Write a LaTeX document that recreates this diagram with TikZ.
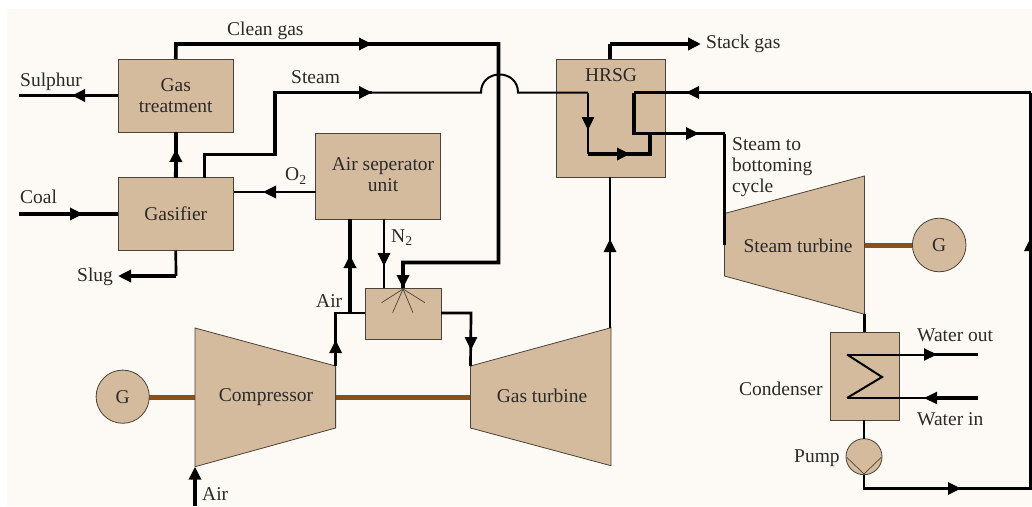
\documentclass[tikz,border=0pt]{standalone}
\usepackage{fontspec}
\setmainfont{Liberation Serif}
\usetikzlibrary{arrows.meta}
\definecolor{paper}{HTML}{FDFAF5}
\definecolor{tan}{HTML}{D5BB9D}
\definecolor{edge}{HTML}{4A4338}
\definecolor{shaft}{HTML}{8A5019}
\definecolor{ink}{HTML}{2A2A2A}
\tikzset{
  x=1pt,y=-1pt,
  unit/.style={draw=edge,fill=tan,line width=0.8pt,inner sep=0pt,outer sep=0pt,text=ink,font=\fontsize{19.5}{21}\selectfont,align=center},
  machine/.style={draw=edge,fill=tan,line width=0.8pt,line join=miter},
  lbl/.style={inner sep=0pt,text=ink,font=\fontsize{19.5}{21}\selectfont,align=left},
  heavy/.style={line width=3.6pt,draw=black,line join=miter},
  medium/.style={line width=2.7pt,draw=black,line join=miter},
  light/.style={line width=2pt,draw=black,line join=miter},
  flow/.style={-{Triangle[length=13pt,width=12pt]}},
  rotorshaft/.style={line width=5pt,draw=shaft},
  fine/.style={line width=0.7pt,draw=edge},
}
\begin{document}
\begin{tikzpicture}
\useasboundingbox (0,0) rectangle (1032,506);
\clip (0,0) rectangle (1032,506);
\fill[paper] (7,9) rectangle (1032,506);

% ports
\coordinate (sulEnd) at (19,95.5);
\coordinate (sulTip) at (72,95.5);
\coordinate (coalStart) at (19,214);
\coordinate (coalTip) at (83,214);
\coordinate (cgA) at (176,44);
\coordinate (cgTip) at (372,44);
\coordinate (cgB) at (498.5,44);
\coordinate (cgC) at (498.5,262.5);
\coordinate (cgD) at (403,262.5);
\coordinate (stA) at (204.5,177.5);
\coordinate (stB) at (204.5,154.5);
\coordinate (stC) at (275,154.5);
\coordinate (stD) at (275,92.5);
\coordinate (stTip) at (372,92.5);
\coordinate (archL) at (481,92.5);
\coordinate (archR) at (518,92.5);
\coordinate (archCa) at (481,68.5);
\coordinate (archCb) at (518,68.5);
\coordinate (hrA) at (588,92.5);
\coordinate (hrTipA) at (588,130);
\coordinate (hrB) at (588,154);
\coordinate (hrTipB) at (630,154);
\coordinate (hrC) at (650,154);
\coordinate (hrD) at (650,133.5);
\coordinate (hrE) at (634,133.5);
\coordinate (hrF) at (634,92.5);
\coordinate (retTip) at (686,92.5);
\coordinate (outTip) at (699,133.5);
\coordinate (outB) at (724.5,133.5);
\coordinate (stackA) at (610,44);
\coordinate (stackTip) at (701,44);
\coordinate (slugA) at (176,276);
\coordinate (slugTip) at (118,276);
\coordinate (o2Tip) at (263,192);
\coordinate (n2Tip) at (384,266);
\coordinate (airUpTip) at (350,255);
\coordinate (airJoin) at (350,313);
\coordinate (airCorner) at (335.6,313);
\coordinate (airTip) at (335.6,340);
\coordinate (mixOut) at (471,313);
\coordinate (mixTip) at (471,350);
\coordinate (airIn) at (195,506);
\coordinate (hotTip) at (610,239);
\coordinate (wOutEnd) at (977.5,354.5);
\coordinate (wOutTip) at (937,354.5);
\coordinate (wInStart) at (977.5,398);
\coordinate (wInTip) at (924,398);
\coordinate (coilA) at (847,354.5);
\coordinate (coilB) at (882,377);
\coordinate (coilC) at (847,398);
\coordinate (btmA) at (864,488.5);
\coordinate (btmTip) at (961,488.5);
\coordinate (btmB) at (1030.5,488.5);
\coordinate (rhsTip) at (1030.5,238);
\coordinate (rhsB) at (1030.5,92.5);

% machines
\coordinate (cLT) at (195,328);
\coordinate (cRT) at (335.6,366);
\coordinate (cRB) at (335.6,428);
\coordinate (cLB) at (195,466.7);
\coordinate (gLT) at (470.5,366);
\coordinate (gRT) at (611,327.7);
\coordinate (gRB) at (611,465.7);
\coordinate (gLB) at (470.5,428);
\coordinate (sLT) at (724.5,213.5);
\coordinate (sRT) at (864.5,176);
\coordinate (sRB) at (864.5,314.3);
\coordinate (sLB) at (724.5,276);
\coordinate (sEntry) at (724.5,245);

% shafts behind machines
\draw[rotorshaft] (149,397) -- (195,397);
\draw[rotorshaft] (335.6,397) -- (470.5,397);
\draw[rotorshaft] (864.5,245) -- (912,245);

\node[unit,minimum width=115.5pt,minimum height=73pt] (gt) at (175.75,95.5) {Gas\\treatment};
\node[unit,minimum width=115.5pt,minimum height=73pt] (gs) at (175.75,214) {Gasifier};
\node[unit,minimum width=125pt,minimum height=86pt] (asu) at (378,176) {};
\node[lbl,align=center] (asut) at (383,175) {Air seperator\\unit};
\node[unit,minimum width=76pt,minimum height=51pt] (mx) at (403,313.5) {};
\node[unit,minimum width=109pt,minimum height=118pt] (hrsg) at (610.5,118) {};
\node[lbl,anchor=center] (hrsgt) at (611,75) {HRSG};
\node[unit,minimum width=69.7pt,minimum height=88pt] (cd) at (864.85,376.3) {};
\node[unit,circle,minimum size=53.2pt] (gl) at (122.7,396.7) {G};
\node[unit,circle,minimum size=53.6pt] (gr) at (939.2,245) {G};
\node[unit,circle,minimum size=36pt] (pu) at (864,456.7) {};

\path[machine] (cLT) -- (cRT) -- (cRB) -- (cLB) -- cycle;
\path[machine] (gLT) -- (gRT) -- (gRB) -- (gLB) -- cycle;
\path[machine] (sLT) -- (sRT) -- (sRB) -- (sLB) -- cycle;
\node[lbl] (cmp) at (266,397) {Compressor};
\node[lbl] (gtb) at (542,396) {Gas turbine};
\node[lbl] (stb) at (798,246) {Steam turbine};

% spray, pump impeller
\draw[fine] (403,289) -- (381.6,302.7);
\draw[fine] (403,289) -- (392.6,312.7);
\draw[fine] (403,289) -- (413,312.7);
\draw[fine] (403,289) -- (425,302.7);
\draw[fine] (846.7,457.3) -- (864,474) -- (881.3,457.3);

% connectors
\draw[heavy] (gt.west |- sulEnd) -- (sulEnd);
\draw[heavy,flow] (gt.west |- sulTip) -- (sulTip);
\draw[heavy] (coalStart) -- (gs.west |- coalStart);
\draw[heavy,flow] (coalStart) -- (coalTip);
\draw[heavy] (gt.north) -- (cgA) -- (cgB) -- (cgC) -- (cgD) -- (mx.north -| cgD);
\draw[heavy,flow] (cgA) -- (cgTip);
\draw[heavy,flow] (cgD) -- (mx.north -| cgD);
\draw[heavy] (gs.north) -- (gt.south);
\draw[heavy,flow] (gs.north) -- (176,149);
\draw[heavy] (stA) -- (stB) -- (stC) -- (stD) -- (stTip);
\draw[heavy,flow] (stD) -- (stTip);
\draw[light] (stTip) -- (archL) .. controls (archCa) and (archCb) .. (archR) -- (hrA);
\draw[medium] (hrA) -- (hrB);
\draw[medium,flow] (hrA) -- (hrTipA);
\draw[heavy] (hrB) -- (hrC) -- (hrD);
\draw[heavy,flow] (hrB) -- (hrTipB);
\draw[heavy] (hrF) -- (hrE) -- (hrD);
\draw[medium] (rhsB) -- (hrF);
\draw[medium,flow] (rhsB) -- (retTip);
\draw[medium] (hrD) -- (outB);
\draw[medium,flow] (hrD) -- (outTip);
\draw[heavy] (outB) -- (sLT);
\draw[medium] (sLT) -- (sEntry);
\draw[heavy] (hrsg.north -| stackA) -- (stackA);
\draw[heavy,flow] (stackA) -- (stackTip);
\draw[medium] (gs.south) -- (slugA);
\draw[heavy,flow] (slugA) -- (slugTip);
\draw[medium] (asu.west |- o2Tip) -- (gs.east |- o2Tip);
\draw[medium,flow] (asu.west |- o2Tip) -- (o2Tip);
\draw[medium] (n2Tip |- asu.south) -- (n2Tip |- mx.north);
\draw[medium,flow] (n2Tip |- asu.south) -- (n2Tip);
\draw[heavy] (airJoin) -- (airJoin |- asu.south);
\draw[heavy,flow] (airJoin) -- (airUpTip);
\draw[medium] (cRT) -- (airCorner) -- (mx.west |- airCorner);
\draw[medium,flow] (cRT) -- (airTip);
\draw[medium] (mx.east |- mixOut) -- (mixOut) -- (gLT);
\draw[medium,flow] (mixOut) -- (mixTip);
\draw[heavy,flow] (airIn) -- (cLB);
\draw[medium] (gRT -| hotTip) -- (hrsg.south -| hotTip);
\draw[medium,flow] (gRT -| hotTip) -- (hotTip);
\draw[medium] (sRB) -- (cd.north -| sRB);
\draw[medium] (cd.south -| pu.north) -- (pu.north);
\draw[medium] (pu.south) -- (btmA) -- (btmB) -- (rhsB);
\draw[medium,flow] (btmA) -- (btmTip);
\draw[medium,flow] (btmB) -- (rhsTip);
\draw[light] (coilA) -- (wOutEnd);
\draw[heavy] (930,354.5) -- (wOutEnd);
\draw[light,flow] (coilA) -- (wOutTip);
\draw[light] (wInStart) -- (coilC);
\draw[heavy] (wInStart) -- (930,398);
\draw[light,flow] (wInStart) -- (wInTip);
\draw[light] (coilA) -- (coilB) -- (coilC);

% labels
\node[lbl,anchor=west] (t1) at (227,31) {Clean gas};
\node[lbl,anchor=west] (t2) at (291,77) {Steam};
\node[lbl,anchor=west] (t3) at (20,82) {Sulphur};
\node[lbl,anchor=west] (t4) at (20,197) {Coal};
\node[lbl,anchor=west] (t5) at (77,277) {Slug};
\node[lbl,anchor=west] (t6) at (285,176) {O\textsubscript{2}};
\node[lbl,anchor=west] (t7) at (391,238) {N\textsubscript{2}};
\node[lbl,anchor=west] (t8) at (316,301) {Air};
\node[lbl,anchor=west] (t9) at (202,494) {Air};
\node[lbl,anchor=west] (t10) at (706,44) {Stack gas};
\node[lbl,anchor=north west] (t11) at (732,137) {Steam to\\bottoming\\cycle};
\node[lbl,anchor=west] (t12) at (739,389) {Condenser};
\node[lbl,anchor=west] (t13) at (917,335) {Water out};
\node[lbl,anchor=west] (t14) at (917,419) {Water in};
\node[lbl,anchor=west] (t15) at (794,458) {Pump};
\end{tikzpicture}
\end{document}
